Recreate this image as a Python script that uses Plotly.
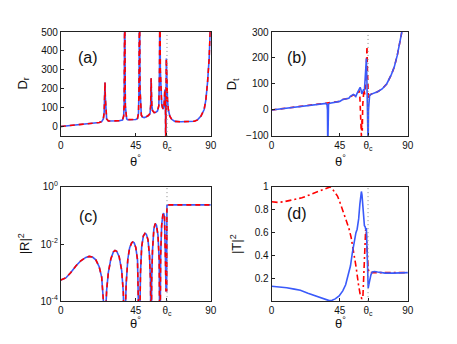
import plotly.graph_objects as go
from plotly.subplots import make_subplots

BLUE = '#3a5afa'
RED = '#ff0000'
FONT = 'Liberation Sans, Arial, sans-serif'

W, H = 457, 344

THETA_C = 63.7

# (a) D_r vs angle (both curves coincide)
theta_a = [0, 5, 10, 15, 20, 23, 24.5, 25.5, 26.0, 26.3, 26.5, 26.7, 27.0, 27.5, 28.5,
           32, 35, 37, 37.7, 38.0, 38.2, 38.35, 38.5, 38.7, 39.0, 39.5, 40, 43, 45,
           46, 46.6, 46.9, 47.1, 47.2, 47.3, 47.5, 47.8, 48.3, 49, 50, 51, 52.5, 53.5,
           53.9, 54.1, 54.2, 54.35, 54.6, 55, 56, 57, 58, 58.8, 59.2, 59.45, 59.7, 60,
           60.5, 61, 61.5, 62, 62.4, 62.6, 62.8, 62.95, 63.1, 63.3, 63.5, 64, 64.5,
           65.4, 66.5, 68.4, 72, 76, 80.2, 82, 84.1, 86, 87, 88, 89, 89.6, 90]
dr_vals = [0, 4, 8, 12, 17, 21, 26, 40, 75, 150, 233, 150, 70, 40, 29,
           28, 30, 34, 55, 120, 400, 700, 400, 110, 55, 40, 36, 35, 37,
           42, 70, 200, 600, 700, 600, 200, 90, 60, 50, 47, 50, 58, 68,
           110, 200, 255, 180, 110, 85, 73, 75, 82, 110, 300, 700, 300, 160,
           120, 100, 92, 120, 195, 150, 100, -150, 100, 360, 250, 140, 90,
           55, 38, 27, 25, 25, 28, 35, 55, 90, 140, 230, 360, 500, 520]

# (b) D_t vs angle
theta_b_blue = [0, 10, 20, 30, 36, 36.6, 36.9, 37.1, 37.3, 37.6, 38.5, 40, 43, 45, 47,
                49, 51, 52, 53, 54, 55, 55.6, 56.3, 57, 58, 58.5, 59, 59.6, 60.2, 60.8,
                61.3, 61.8, 62.3, 62.6, 62.9, 63.2, 63.5, 63.75, 64.0, 64.2, 64.7, 65.5,
                67, 70, 73, 76, 79, 81, 83, 85, 86.3, 87]
dt_blue = [0, 7, 14, 20, 25, 20, 0, -150, 0, 22, 26, 28, 31, 33, 40,
           42, 45, 52, 55, 60, 56, 52, 62, 70, 80, 87, 78, 62, 70, 80,
           75, 110, 150, 198, 130, 60, 0, -150, 0, 40, 55, 60,
           63, 70, 81, 100, 135, 165, 210, 260, 300, 330]
theta_b_red = [0, 10, 20, 30, 36, 38.5, 40, 43, 45, 47, 49, 51, 52, 53, 54, 55, 56,
               57, 57.8, 58.3, 58.7, 59.0, 59.3, 59.6, 59.9, 60.2, 60.6, 61, 61.5, 62,
               62.5, 63.0, 63.3, 63.6, 64, 64.5, 65.5, 67, 70, 73, 76, 79, 81, 83, 85,
               86.3, 87]
dt_red = [0, 7, 14, 20, 25, 26, 28, 31, 33, 40, 42, 45, 50, 55, 58, 55, 58,
          65, 75, 50, 0, -60, -100, -40, -80, 20, 70, 80, 60, 90,
          150, 245, 150, 50, 40, 55, 60, 63, 70, 81, 100, 135, 165, 210, 260,
          300, 330]

# (c) |R|^2 vs angle (both curves coincide)
theta_c = [0, 3, 6, 9, 12, 15, 17, 19, 21, 23, 24.5, 25.5, 26.2, 26.5, 26.8, 27.5,
           28.5, 30, 31.5, 32.5, 33.5, 35, 36.5, 37.5, 38.0, 38.3, 38.6, 39.2, 40.2,
           41.3, 42.5, 43.2, 44, 45, 46, 46.7, 47.0, 47.2, 47.4, 47.8, 48.5, 49.5,
           50.5, 51.3, 52.3, 53.2, 53.8, 54.2, 54.5, 55.0, 55.8, 56.6, 57.4, 58.3,
           59.0, 59.5, 59.9, 60.5, 61.2, 61.7, 62.2, 62.5, 62.8, 63.1, 63.5, 63.65,
           64.5, 70, 80, 90]
r2_vals = [5.5e-4, 6.5e-4, 1.0e-3, 1.7e-3, 2.6e-3, 3.4e-3, 3.7e-3, 3.5e-3, 2.8e-3,
           1.6e-3, 7e-4, 2.2e-4, 3e-5, 1e-6, 3e-5, 2.5e-4,
           1.0e-3, 3.0e-3, 5.3e-3, 6.0e-3, 5.6e-3, 3.6e-3, 1.2e-3, 2.0e-4, 3e-5, 1e-6,
           3e-5, 4e-4, 3.0e-3,
           7.5e-3, 1.1e-2, 1.18e-2, 1.1e-2, 7.5e-3, 2.8e-3, 4e-4, 3e-5, 1e-6, 3e-5,
           1e-3, 8e-3, 1.9e-2,
           2.35e-2, 2.2e-2, 1.4e-2, 4e-3, 5e-4, 1e-6, 5e-4, 6e-3, 3.3e-2, 5.2e-2,
           4.5e-2, 2e-2,
           3e-3, 1e-6, 4e-3, 4.5e-2, 1.05e-1, 1.2e-1, 9e-2, 3e-2, 2.2e-3, 2.3e-4,
           2.3e-4, 0.22,
           0.235, 0.235, 0.235, 0.235]

# (d) |T|^2 vs angle
theta_d_blue = [0, 5, 10, 15, 19, 24, 29.6, 33, 36, 38, 40, 42, 44.6, 47, 48.9, 50.5,
                52.1, 53.3, 54.2, 55, 55.7, 56.5, 57.5, 58.3, 58.9, 59.3, 59.7, 60.3,
                60.8, 61.3, 61.8, 62.3, 62.6, 62.9, 63.3, 63.8, 64.3, 65, 65.6, 66.5,
                68, 70, 75, 80, 85, 90]
t2_blue = [0.13, 0.125, 0.118, 0.105, 0.095, 0.07, 0.045, 0.025, 0.01, 0.005, 0.008,
           0.02, 0.045, 0.09, 0.143, 0.22,
           0.31, 0.42, 0.50, 0.57, 0.60, 0.63, 0.72, 0.85, 0.94, 0.96, 0.93, 0.82,
           0.72, 0.66, 0.65, 0.62, 0.64, 0.5, 0.25, 0.115, 0.15, 0.21, 0.23, 0.255,
           0.26, 0.255, 0.245, 0.245, 0.25, 0.25]
theta_d_red = [0, 4, 8, 12, 16, 20, 25, 30, 35, 38.6, 40, 42, 43.5, 45, 47.8, 49.5,
               51, 52.5, 54.2, 55.8, 57.4, 58.5, 59.6, 60.3, 60.8, 61.3, 61.7, 62.1,
               62.4, 62.8, 63.3, 63.8, 64.5, 66, 75, 90]
t2_red = [0.87, 0.865, 0.87, 0.88, 0.89, 0.905, 0.93, 0.955, 0.98, 1.0, 0.985, 0.95,
          0.92, 0.87, 0.766, 0.70,
          0.64, 0.56, 0.44, 0.30, 0.143, 0.06, 0.02, 0.04, 0.2, 0.4, 0.52, 0.62,
          0.63, 0.5, 0.35, 0.28, 0.25, 0.25, 0.25, 0.25]

x_tickvals = [0, 45, THETA_C, 90]
x_ticktext = ['0', '45', '\u03b8<sub>c</sub>', '90']


def px_x(px):
    return px / W


def px_y(py):
    return 1 - py / H


fig = make_subplots(rows=2, cols=2)

line_blue = dict(color=BLUE, width=1.6)
line_red = dict(color=RED, width=1.6, dash='5px,4px')
line_red_dd = dict(color=RED, width=1.6, dash='6px,3px,2px,3px')

fig.add_trace(go.Scatter(x=theta_a, y=dr_vals, mode='lines', line=line_blue), row=1, col=1)
fig.add_trace(go.Scatter(x=theta_a, y=dr_vals, mode='lines', line=line_red), row=1, col=1)
fig.add_trace(go.Scatter(x=theta_b_red, y=dt_red, mode='lines', line=line_red), row=1, col=2)
fig.add_trace(go.Scatter(x=theta_b_blue, y=dt_blue, mode='lines', line=line_blue), row=1, col=2)
fig.add_trace(go.Scatter(x=theta_c, y=r2_vals, mode='lines', line=line_blue), row=2, col=1)
fig.add_trace(go.Scatter(x=theta_c, y=r2_vals, mode='lines', line=line_red), row=2, col=1)
fig.add_trace(go.Scatter(x=theta_d_red, y=t2_red, mode='lines', line=line_red_dd), row=2, col=2)
fig.add_trace(go.Scatter(x=theta_d_blue, y=t2_blue, mode='lines', line=line_blue), row=2, col=2)

# dotted critical-angle marker in every panel
for r in (1, 2):
    for c in (1, 2):
        fig.add_vline(x=THETA_C, line=dict(color='#888888', width=1, dash='1px,3px'),
                      row=r, col=c)

axis_style = dict(showline=True, linecolor='#222222', linewidth=1, mirror=True,
                  ticks='inside', ticklen=3, tickcolor='#222222', showgrid=False,
                  zeroline=False, tickfont=dict(size=10, color='#111111'))

fig.update_xaxes(range=[0, 90], tickvals=x_tickvals, ticktext=x_ticktext, **axis_style)
fig.update_yaxes(**axis_style)

left_dom = [px_x(59), px_x(212)]
right_dom = [px_x(274), px_x(413)]
top_dom = [px_y(134), px_y(26)]
bot_dom = [px_y(305.7), px_y(187)]

fig.update_layout(
    xaxis=dict(domain=left_dom),
    xaxis2=dict(domain=right_dom),
    xaxis3=dict(domain=left_dom),
    xaxis4=dict(domain=right_dom),
    yaxis=dict(domain=top_dom, range=[-50, 500], tickvals=[0, 100, 200, 300, 400, 500]),
    yaxis2=dict(domain=top_dom, range=[-100, 300], tickvals=[-100, 0, 100, 200, 300],
                ticktext=['\u2212100', '0', '100', '200', '300']),
    yaxis3=dict(domain=bot_dom, type='log', range=[-4, 0], tickvals=[1e-4, 1e-2, 1],
                ticktext=['10<sup>-4</sup>', '10<sup>-2</sup>', '10<sup>0</sup>']),
    yaxis4=dict(domain=bot_dom, range=[0, 1], tickvals=[0.2, 0.4, 0.6, 0.8, 1],
                ticktext=['0.2', '0.4', '0.6', '0.8', '1']),
    width=W, height=H,
    margin=dict(l=0, r=0, t=0, b=0),
    plot_bgcolor='white', paper_bgcolor='white',
    font=dict(family=FONT, color='#111111'),
    showlegend=False,
)

label_kw = dict(xref='paper', yref='paper', showarrow=False,
                xanchor='center', yanchor='middle')

# panel letters
for txt, x, y in [('(a)', 87, 53), ('(b)', 300, 53), ('(c)', 87, 218), ('(d)', 300, 215)]:
    fig.add_annotation(text=txt, x=px_x(x), y=px_y(y),
                       font=dict(size=16, family=FONT), **label_kw)

# axis titles
for txt, x, y in [('D<sub>r</sub>', 21, 80), ('D<sub>t</sub>', 235, 80),
                  ('|R|<sup>2</sup>', 21, 246), ('|T|<sup>2</sup>', 237, 246)]:
    fig.add_annotation(text=txt, x=px_x(x), y=px_y(y), textangle=-90,
                       font=dict(size=13, family=FONT), **label_kw)
for x, y in [(135, 160), (344, 160), (135, 328), (344, 328)]:
    fig.add_annotation(text='\u03b8<sup>\u00b0</sup>', x=px_x(x), y=px_y(y),
                       font=dict(size=13, family=FONT), **label_kw)

# drop the default page margin so the figure sits at the window's top-left corner
fig.write_html("out.html", config={'displayModeBar': False},
               post_script="document.body.style.margin='0';"
                           "document.body.style.overflow='hidden';")
